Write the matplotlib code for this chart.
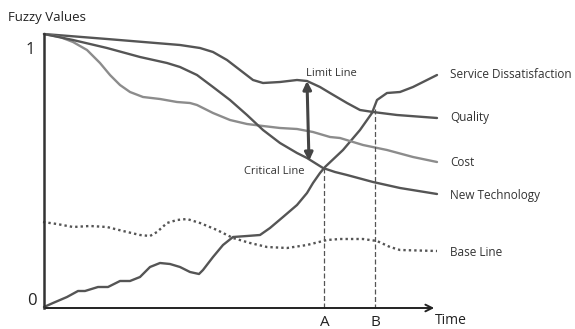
import matplotlib.pyplot as plt

plt.rcParams["font.family"] = ["Open Sans", "DejaVu Sans"]

# values, in picture units (x = time, y grows downward)
quality_x = [44, 107, 180, 200, 213, 227, 240, 253, 263, 280, 297, 307, 320, 330, 347, 360, 373, 397, 437]
quality_y = [34, 39, 45, 48, 52, 60, 70, 80, 83, 82, 80, 81, 87, 93, 103, 110, 112, 115, 118]

service_x = [44, 53, 67, 78, 85, 98, 108, 120, 130, 140, 150, 160, 170, 180, 190, 199, 203, 213, 223, 233,
             247, 260, 270, 283, 297, 307, 313, 320, 325, 343, 360, 372, 377, 387, 400, 413, 437]
service_y = [307, 303, 297, 291, 291, 287, 287, 281, 281, 277, 267, 263, 264, 267, 272, 274, 270, 257, 245, 237,
             236, 235, 228, 217, 205, 193, 183, 173, 167, 150, 130, 113, 100, 93, 92, 87, 75]

cost_x = [44, 60, 73, 87, 100, 110, 120, 130, 143, 160, 177, 190, 197, 213, 230, 247, 263, 280, 297, 313,
          330, 340, 363, 387, 413, 437]
cost_y = [34, 37, 42, 50, 63, 75, 85, 92, 97, 99, 102, 103, 105, 113, 120, 124, 126, 128, 129, 132,
          137, 138, 145, 150, 157, 162]

tech_x = [44, 73, 107, 140, 167, 180, 197, 213, 230, 247, 263, 280, 297, 307, 315, 323, 335, 347, 373, 400, 437]
tech_y = [34, 40, 48, 57, 63, 67, 75, 87, 100, 115, 130, 143, 153, 158, 163, 168, 172, 175, 182, 188, 194]

base_x = [43, 57, 73, 90, 107, 123, 140, 150, 157, 167, 177, 187, 200, 217, 233, 250, 267, 287, 307, 327,
          340, 363, 377, 390, 400, 437]
base_y = [222, 224, 227, 226, 227, 231, 235, 236, 232, 223, 220, 219, 223, 230, 238, 243, 247, 248, 245, 240,
          239, 239, 241, 247, 250, 251]

series_labels = ["Service Dissatisfaction", "Quality", "Cost", "New Technology", "Base Line"]
label_y = [75, 118, 163, 196, 252]

point_a = (324, 168)
point_b = (375, 109)

dark = "#555555"
light = "#8c8c8c"

fig = plt.figure(figsize=(5.75, 3.29), dpi=100)
ax = fig.add_axes([0, 0, 1, 1])
ax.set_xlim(0, 575)
ax.set_ylim(329, 0)
ax.axis("off")

ax.plot(quality_x, quality_y, color=dark, lw=1.7, solid_capstyle="round", solid_joinstyle="round")
ax.plot(service_x, service_y, color=dark, lw=1.7, solid_capstyle="round", solid_joinstyle="round")
ax.plot(cost_x, cost_y, color=light, lw=1.7, solid_capstyle="round", solid_joinstyle="round")
ax.plot(tech_x, tech_y, color=dark, lw=1.7, solid_capstyle="round", solid_joinstyle="round")
ax.plot(base_x, base_y, color=dark, lw=1.7, linestyle=(0, (1, 1.3)))

# dashed drop lines at A and B
for px, py in [point_a, point_b]:
    ax.plot([px, px], [py, 308], color=dark, lw=0.9, linestyle=(0, (4, 2)))

# axes
ax.plot([44, 44], [34, 308], color="#333333", lw=1.8)
ax.annotate("", xy=(437, 308), xytext=(43, 308),
            arrowprops=dict(arrowstyle="->", color="#222222", lw=1.4, mutation_scale=12))

# limit / critical double arrow
ax.annotate("", xy=(307, 81), xytext=(309, 161),
            arrowprops=dict(arrowstyle="<|-|>", color="#444444", lw=2.2, mutation_scale=12,
                            shrinkA=0, shrinkB=0))

ax.text(8, 17, "Fuzzy Values", fontsize=9.5, color="#222222", va="center")
ax.text(26, 50, "1", fontsize=12, color="#222222", va="center")
ax.text(27, 301, "0", fontsize=12, color="#222222", va="center")
ax.text(306, 73, "Limit Line", fontsize=8, color="#333333", va="center")
ax.text(305, 171, "Critical Line", fontsize=8, color="#333333", va="center", ha="right")
ax.text(325, 322, "A", fontsize=11, color="#222222", va="center", ha="center")
ax.text(375, 322, "B", fontsize=11, color="#222222", va="center", ha="center")
ax.text(435, 320, "Time", fontsize=10, color="#222222", va="center")

for lab, ly in zip(series_labels, label_y):
    ax.text(450, ly, lab, fontsize=8.5, color="#333333", va="center")

fig.savefig("out.png", dpi=100)
